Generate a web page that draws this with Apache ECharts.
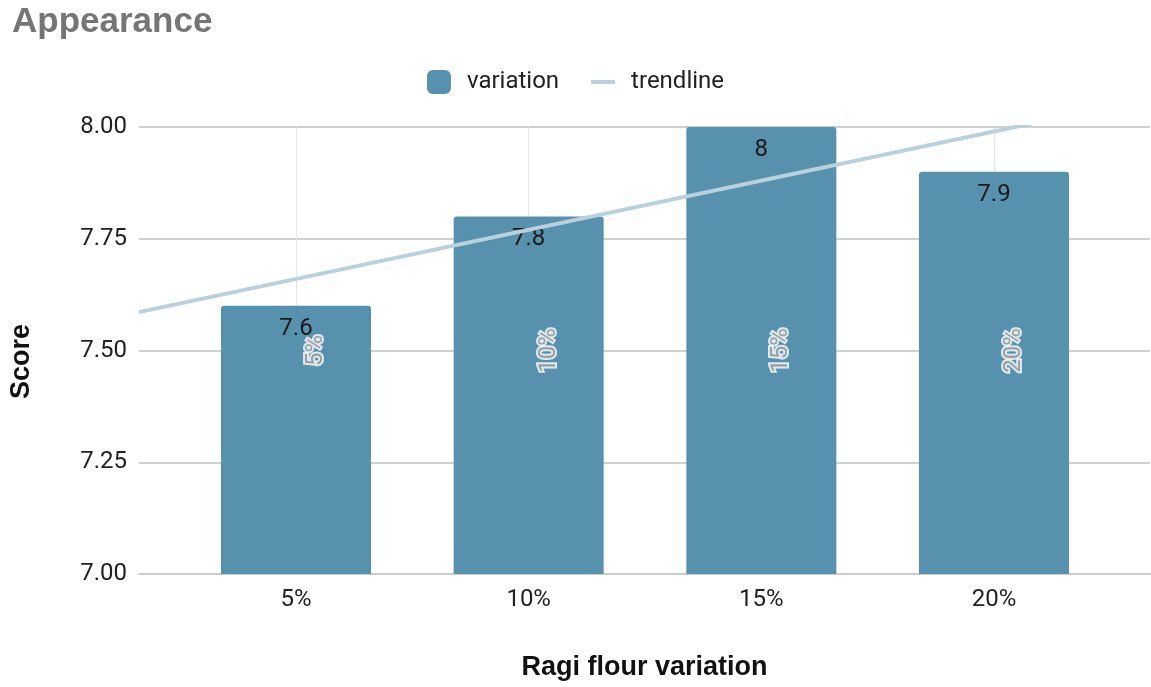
<!DOCTYPE html>
<html>
<head>
<meta charset="utf-8">
<title>Appearance</title>
<script src="https://cdn.jsdelivr.net/npm/echarts@6/dist/echarts.min.js"></script>
<style>
  html, body { margin: 0; padding: 0; background: #fff; }
  #chart { width: 1151px; height: 687px; }
</style>
</head>
<body>
<div id="chart"></div>
<script>
// Appearance score by ragi flour level
const categories = ['5%', '10%', '15%', '20%'];
const positions = [1, 2, 3, 4];
const scores = [7.6, 7.8, 8, 7.9];
const yTicks = [7.00, 7.25, 7.50, 7.75, 8.00];

// x extent of the plot (in category units)
const X_MIN = 0.3252;
const X_MAX = 4.6705;

// least-squares fit over the bar values
function linearFit(xs, ys) {
  const n = xs.length;
  const mx = xs.reduce((a, b) => a + b, 0) / n;
  const my = ys.reduce((a, b) => a + b, 0) / n;
  let sxy = 0, sxx = 0;
  for (let i = 0; i < n; i++) {
    sxy += (xs[i] - mx) * (ys[i] - my);
    sxx += (xs[i] - mx) * (xs[i] - mx);
  }
  const slope = sxy / sxx;
  return { slope, intercept: my - slope * mx };
}
const fit = linearFit(positions, scores);
const trend = [X_MIN, X_MAX].map(x => [x, fit.intercept + fit.slope * x]);

const barData = positions.map((x, i) => [x, scores[i]]);
const tagData = positions.map((x, i) => ({ value: [x, 7.5], name: categories[i] }));

const BAR_COLOR = '#5891ae';
const TREND_COLOR = '#b8d1dd';
// thin horizontal stroke for the trendline legend swatch (moveTo points pad the box)
const TREND_ICON = 'path://M0,0M0,10L24,10L24,14L0,14ZM24,24';

const chart = echarts.init(document.getElementById('chart'), null, { renderer: 'canvas' });

chart.setOption({
  animation: false,
  backgroundColor: '#ffffff',
  title: {
    text: 'Appearance',
    left: 7,
    top: 0,
    textStyle: {
      fontFamily: 'Liberation Sans, Arial, sans-serif',
      fontWeight: 'bold',
      fontSize: 35,
      color: '#757575'
    }
  },
  legend: {
    top: 65,
    left: 'center',
    itemWidth: 24,
    itemHeight: 24,
    itemGap: 32,
    data: [
      { name: 'variation', icon: 'roundRect' },
      { name: 'trendline', icon: TREND_ICON, itemStyle: { color: TREND_COLOR, borderWidth: 0 } }
    ],
    textStyle: {
      fontFamily: 'Roboto, sans-serif',
      fontSize: 24,
      color: '#222',
      padding: [0, 0, 0, 11]
    }
  },
  grid: {
    left: 139,
    right: 1,
    top: 127,
    bottom: 113,
    containLabel: false
  },
  xAxis: {
    type: 'value',
    min: X_MIN,
    max: X_MAX,
    name: 'Ragi flour variation',
    nameLocation: 'middle',
    nameGap: 80,
    nameTextStyle: {
      fontFamily: 'Liberation Sans, Arial, sans-serif',
      fontWeight: 'bold',
      fontSize: 27,
      color: '#111'
    },
    axisLine: { show: true, lineStyle: { color: '#cccccc', width: 2 } },
    axisTick: { show: false, customValues: positions },
    axisLabel: {
      customValues: positions,
      formatter: v => categories[positions.indexOf(Math.round(v))] || '',
      fontFamily: 'Roboto, sans-serif',
      fontSize: 24,
      color: '#222',
      margin: 14
    },
    splitLine: { show: true, lineStyle: { color: '#e6e6e6', width: 1 } }
  },
  yAxis: {
    type: 'value',
    min: 7,
    max: 8,
    interval: 0.25,
    name: 'Score',
    nameLocation: 'middle',
    nameGap: 104,
    nameRotate: 90,
    nameTextStyle: {
      fontFamily: 'Liberation Sans, Arial, sans-serif',
      fontWeight: 'bold',
      fontSize: 27,
      color: '#111',
      padding: [0, 22, 0, 0]
    },
    axisLine: { show: false },
    axisTick: { show: false },
    axisLabel: {
      customValues: yTicks,
      formatter: v => v.toFixed(2),
      fontFamily: 'Roboto, sans-serif',
      fontSize: 24,
      color: '#222',
      margin: 12
    },
    splitLine: { show: true, lineStyle: { color: '#d0d0d0', width: 2 } }
  },
  series: [
    {
      name: 'variation',
      type: 'bar',
      data: barData,
      barWidth: 150,
      z: 2,
      itemStyle: { color: BAR_COLOR, borderRadius: [3, 3, 0, 0] },
      label: {
        show: true,
        position: 'insideTop',
        distance: 11,
        formatter: p => String(p.value[1]),
        fontFamily: 'Roboto, sans-serif',
        fontSize: 24,
        color: '#1a1a1a'
      }
    },
    {
      name: 'trendline',
      type: 'line',
      data: trend,
      symbol: 'none',
      clip: true,
      z: 3,
      lineStyle: { color: TREND_COLOR, width: 4 },
      itemStyle: { color: TREND_COLOR }
    },
    {
      name: 'tags',
      type: 'scatter',
      data: tagData,
      symbolSize: 0,
      z: 4,
      silent: true,
      label: {
        show: true,
        position: 'inside',
        offset: [0, 20],
        rotate: 90,
        formatter: p => p.name,
        fontFamily: 'Roboto, sans-serif',
        fontSize: 24,
        color: '#8a8a8a',
        textBorderColor: '#ffffff',
        textBorderWidth: 4
      }
    }
  ]
});
</script>
</body>
</html>
